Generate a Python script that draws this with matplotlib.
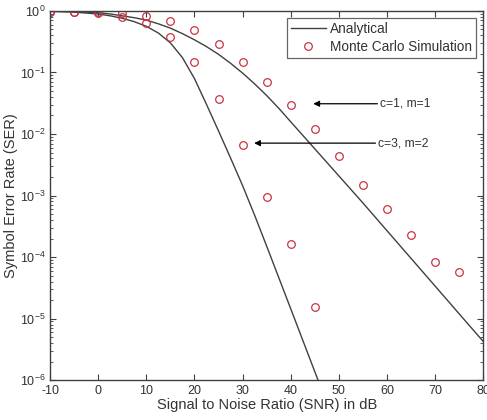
import matplotlib
matplotlib.use('Agg')
import matplotlib.pyplot as plt
from matplotlib.ticker import LogLocator, NullFormatter

plt.rcParams['font.family'] = ['Liberation Sans', 'DejaVu Sans']
plt.rcParams['mathtext.default'] = 'regular'
plt.rcParams['axes.unicode_minus'] = False

# analytical curves, SNR in dB
snr_line = [-10, -5, 0, 2.5, 5, 7.5, 10, 12.5, 15, 17.5, 20, 22.5, 25, 27.5, 30, 32.5, 35,
            37.5, 40, 45, 50, 55, 60, 65, 70, 75, 80]
ser_c1m1 = [0.993, 0.977, 0.933, 0.891, 0.832, 0.776, 0.708, 0.617, 0.525, 0.427, 0.339,
            0.263, 0.197, 0.141, 0.0977, 0.0653, 0.0422, 0.0263, 0.0158, 5.75e-3, 2.09e-3,
            7.59e-4, 2.69e-4, 9.55e-5, 3.39e-5, 1.20e-5, 4.27e-6]
snr_line2 = [-10, -5, 0, 2.5, 5, 7.5, 10, 12.5, 15, 17.5, 20, 22.5, 25, 27.5, 30, 32.5, 35,
             40, 45, 50]
ser_c3m2 = [0.982, 0.955, 0.891, 0.832, 0.759, 0.668, 0.562, 0.437, 0.302, 0.174, 0.0794,
            0.0302, 0.0112, 4.07e-3, 1.45e-3, 4.79e-4, 1.51e-4, 1.45e-5, 1.38e-6, 1.32e-7]

# Monte Carlo points
snr_mc1 = [-10, -5, 0, 5, 10, 15, 20, 25, 30, 35, 40, 45, 50, 55, 60, 65, 70, 75]
mc_c1m1 = [0.97, 0.97, 0.96, 0.93, 0.83, 0.69, 0.49, 0.29, 0.15, 0.07, 0.03, 0.012,
           0.0044, 0.0015, 6e-4, 2.3e-4, 8.3e-5, 5.7e-5]
snr_mc2 = [-10, -5, 0, 5, 10, 15, 20, 25, 30, 35, 40, 45]
mc_c3m2 = [0.97, 0.95, 0.93, 0.80, 0.63, 0.38, 0.15, 0.037, 0.0066, 9.5e-4, 1.6e-4, 1.55e-5]

line_col = '#404040'
mk_col = '#cc3344'
txt_col = '#333333'

fig = plt.figure(figsize=(4.87, 4.20), dpi=100)
ax = fig.add_axes([0.103, 0.095, 0.889, 0.879])

ax.semilogy(snr_line, ser_c1m1, color=line_col, lw=1.0, label='Analytical')
ax.semilogy(snr_line2, ser_c3m2, color=line_col, lw=1.0)
ax.semilogy(snr_mc1, mc_c1m1, 'o', mfc='none', mec=mk_col, ms=5.5, mew=0.9,
            label='Monte Carlo Simulation')
ax.semilogy(snr_mc2, mc_c3m2, 'o', mfc='none', mec=mk_col, ms=5.5, mew=0.9)

ax.set_xlim(-10, 80)
ax.set_ylim(1e-6, 1)
ax.set_xticks(range(-10, 81, 10))
ax.yaxis.set_major_locator(LogLocator(base=10, numticks=10))
ax.yaxis.set_minor_locator(LogLocator(base=10, subs=range(2, 10), numticks=20))
ax.yaxis.set_minor_formatter(NullFormatter())
ax.tick_params(which='both', direction='in', top=True, right=True, labelsize=9,
               color=line_col, labelcolor=txt_col)
ax.tick_params(which='major', length=4)
ax.tick_params(which='minor', length=2)
for s in ax.spines.values():
    s.set_color(line_col)
    s.set_linewidth(1.0)

ax.set_xlabel('Signal to Noise Ratio (SNR) in dB', fontsize=10.5, color=txt_col, labelpad=1)
ax.set_ylabel('Symbol Error Rate (SER)', fontsize=10.5, color=txt_col, labelpad=1)

ax.annotate('c=1, m=1', xy=(44.7, 0.031), xytext=(58.6, 0.031), fontsize=8.7,
            va='center', color=txt_col,
            arrowprops=dict(arrowstyle='-|>', color='black', lw=0.9, shrinkA=0, shrinkB=0))
ax.annotate('c=3, m=2', xy=(32.4, 0.0071), xytext=(58.2, 0.0071), fontsize=8.7,
            va='center', color=txt_col,
            arrowprops=dict(arrowstyle='-|>', color='black', lw=0.9, shrinkA=0, shrinkB=0))

leg = ax.legend(loc='upper right', fontsize=9.8, frameon=True, fancybox=False,
                edgecolor=line_col, borderaxespad=0.5, handlelength=2.6,
                handletextpad=0.3, labelspacing=0.3, borderpad=0.3)
leg.get_frame().set_linewidth(0.9)
for t in leg.get_texts():
    t.set_color(txt_col)

plt.savefig('out.png', dpi=100)
